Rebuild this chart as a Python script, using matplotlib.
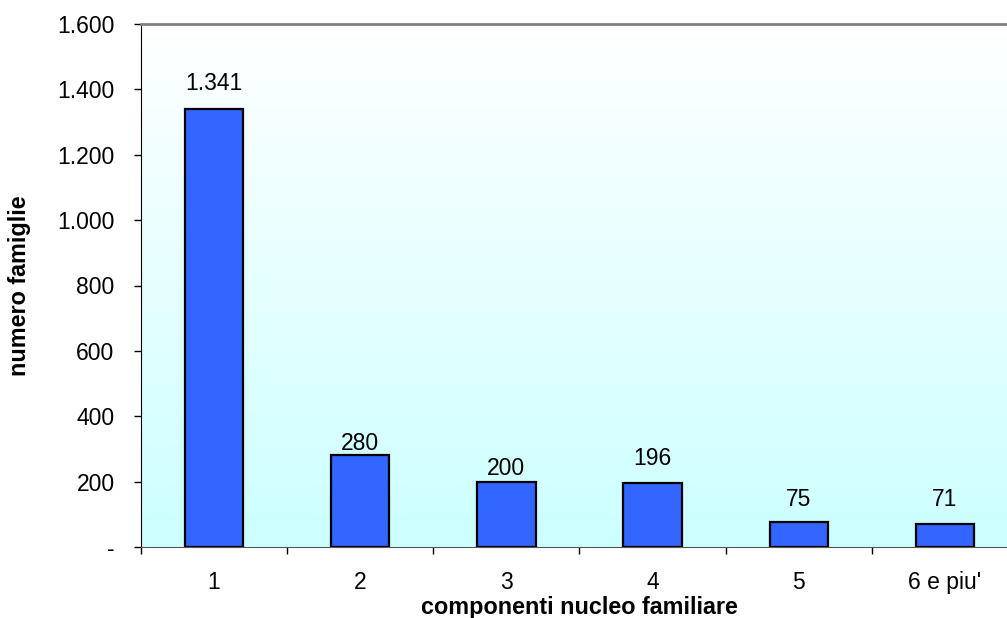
import numpy as np
import matplotlib.pyplot as plt
from matplotlib.colors import LinearSegmentedColormap

plt.rcParams['font.family'] = ['Liberation Sans', 'DejaVu Sans']

categorie = ['1', '2', '3', '4', '5', "6 e piu'"]
famiglie = [1341, 280, 200, 196, 75, 71]
etichette = ['1.341', '280', '200', '196', '75', '71']
yticks = [0, 200, 400, 600, 800, 1000, 1200, 1400, 1600]
ytick_labels = ['-', '200', '400', '600', '800', '1.000', '1.200', '1.400', '1.600']

fs = 16.5

fig = plt.figure(figsize=(10.07, 6.18), dpi=100)
ax = fig.add_axes([141 / 1007, 71 / 618, 877 / 1007, 523 / 618])

# sfondo sfumato bianco -> azzurro
cmap = LinearSegmentedColormap.from_list('sfondo', ['#CCFFFF', '#FFFFFF'])
grad = np.linspace(0, 1, 256).reshape(-1, 1)
ax.imshow(grad, cmap=cmap, aspect='auto', extent=[0, 1, 0, 1],
          transform=ax.transAxes, origin='lower', zorder=0)

x = np.arange(len(categorie))
bars = ax.bar(x, famiglie, width=0.4, color='#3366FF', edgecolor='black',
              linewidth=1.6, zorder=2)

offsets = [9.5, 0, 1.5, 9, 8, 9.5]
for b, lab, off in zip(bars, etichette, offsets):
    ax.annotate(lab, (b.get_x() + b.get_width() / 2, b.get_height()),
                xytext=(0, off), textcoords='offset points',
                ha='center', va='bottom', fontsize=fs)

ax.set_xlim(-0.5, len(categorie) - 0.5)
ax.set_ylim(0, 1600)
ax.set_yticks(yticks)
ax.set_yticklabels(ytick_labels)
ax.set_xticks(x)
ax.set_xticklabels(categorie)
ax.set_xticks(np.arange(-0.5, len(categorie)), minor=True)
ax.tick_params(axis='x', which='major', length=0, pad=17, labelsize=fs)
ax.tick_params(axis='x', which='minor', length=5, width=1)
ax.tick_params(axis='y', length=5, width=1, pad=14, labelsize=fs)

ax.spines['top'].set_color('#808080')
ax.spines['top'].set_linewidth(2)
ax.spines['left'].set_color('black')
ax.spines['bottom'].set_color('#555555')
ax.spines['right'].set_visible(False)

ax.set_xlabel('componenti nucleo familiare', fontsize=16.8, fontweight='bold')
ax.xaxis.set_label_coords(0.5, -0.094)
ax.set_ylabel('numero famiglie', fontsize=16.8, fontweight='bold')
ax.yaxis.set_label_coords(-0.1254, 0.5)

plt.savefig('out.png', dpi=100)
